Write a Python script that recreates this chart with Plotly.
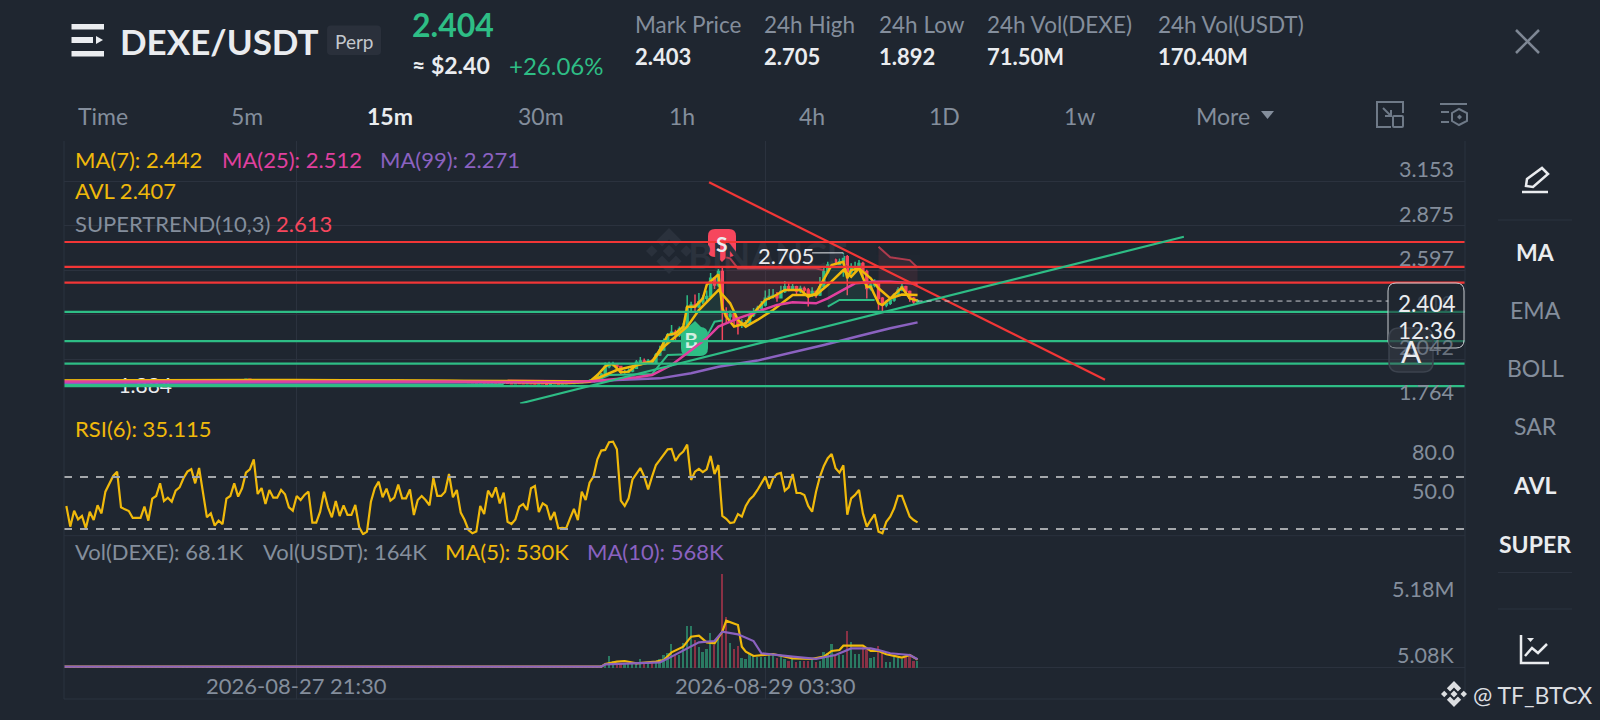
"""DEXE/USDT perp 15m chart screen: candles + MA/AVL/Supertrend, RSI(6) and volume panels."""
import pandas as pd
import plotly.graph_objects as go
from plotly.subplots import make_subplots

BG = "#1f2630"
GRID = "#2b323e"
GREY = "#848e9c"
WHITE = "#eaecef"
UP = "#2ebd85"
DOWN = "#f6465d"
YELLOW = "#f0b90b"
PINK = "#e0409f"
PURPLE = "#8b62c0"
LEVEL_RED = "#f23636"
FONT = "Lato"

# flat stretch before the breakout, closes only (bodies with no visible wick)
FLAT_CLOSE = [
    1.899, 1.901, 1.898, 1.902, 1.900, 1.899, 1.903, 1.901, 1.898, 1.900, 1.902, 1.899, 1.897, 1.900, 1.901,
    1.899, 1.898, 1.902, 1.905, 1.903, 1.900, 1.899, 1.901, 1.898, 1.900, 1.899, 1.901, 1.903, 1.900, 1.898,
    1.899, 1.902, 1.904, 1.901, 1.899, 1.900, 1.898, 1.901, 1.903, 1.899, 1.902, 1.906, 1.909, 1.911, 1.908,
    1.910, 1.913, 1.915, 1.912, 1.910, 1.913, 1.911, 1.909, 1.912, 1.910, 1.908, 1.906, 1.904, 1.903, 1.901,
    1.900, 1.902, 1.899, 1.901, 1.898, 1.900, 1.902, 1.899, 1.901, 1.900, 1.898, 1.899, 1.902, 1.904, 1.901,
    1.899, 1.900, 1.902, 1.899, 1.901, 1.898, 1.900, 1.903, 1.905, 1.907, 1.909, 1.908, 1.906, 1.904, 1.902,
    1.900, 1.899, 1.901, 1.899, 1.897, 1.899, 1.900, 1.898, 1.896, 1.899, 1.900, 1.898, 1.899, 1.897, 1.895,
    1.893, 1.892, 1.894, 1.891, 1.890, 1.892, 1.889, 1.891, 1.893, 1.890, 1.888, 1.890, 1.889, 1.887, 1.889,
    1.888, 1.886, 1.888, 1.887, 1.885, 1.887, 1.889, 1.886, 1.888, 1.890, 1.889, 1.892, 1.894, 1.897, 1.900,
]
FLAT_VOL = [
    0.04, 0.05, 0.03, 0.06, 0.04, 0.05, 0.07, 0.04, 0.03, 0.05, 0.06, 0.04, 0.03, 0.05, 0.04,
    0.05, 0.03, 0.04, 0.08, 0.06, 0.04, 0.03, 0.05, 0.04, 0.05, 0.03, 0.04, 0.06, 0.05, 0.03,
    0.04, 0.06, 0.07, 0.04, 0.03, 0.05, 0.04, 0.05, 0.06, 0.03, 0.05, 0.08, 0.09, 0.07, 0.06,
    0.07, 0.08, 0.09, 0.06, 0.05, 0.07, 0.06, 0.05, 0.06, 0.05, 0.04, 0.05, 0.04, 0.03, 0.05,
    0.04, 0.05, 0.03, 0.04, 0.03, 0.05, 0.04, 0.03, 0.05, 0.04, 0.03, 0.04, 0.06, 0.05, 0.04,
    0.03, 0.04, 0.05, 0.03, 0.04, 0.03, 0.04, 0.06, 0.07, 0.08, 0.07, 0.06, 0.05, 0.05, 0.04,
    0.04, 0.03, 0.05, 0.04, 0.03, 0.04, 0.05, 0.04, 0.03, 0.04, 0.05, 0.04, 0.03, 0.04, 0.05,
    0.06, 0.05, 0.04, 0.06, 0.05, 0.04, 0.05, 0.04, 0.06, 0.05, 0.04, 0.05, 0.04, 0.05, 0.04,
    0.05, 0.06, 0.04, 0.05, 0.06, 0.04, 0.05, 0.06, 0.05, 0.07, 0.06, 0.08, 0.07, 0.09, 0.08,
]

# last 85 bars, breakout and after
ACTIVE_CLOSE = [
    1.905, 1.917, 1.938, 1.947, 1.995, 2.009, 2.009, 1.995, 1.959, 1.963, 1.967, 1.984, 2.022, 2.030, 2.022,
    2.030, 2.022, 2.067, 2.099, 2.147, 2.192, 2.209, 2.192, 2.230, 2.244, 2.363, 2.380, 2.369, 2.400, 2.421,
    2.432, 2.546, 2.505, 2.588, 2.338, 2.307, 2.321, 2.286, 2.255, 2.259, 2.269, 2.317, 2.338, 2.359, 2.380,
    2.421, 2.432, 2.438, 2.425, 2.463, 2.494, 2.483, 2.494, 2.467, 2.483, 2.473, 2.442, 2.463, 2.442, 2.494,
    2.587, 2.629, 2.660, 2.629, 2.650, 2.681, 2.587, 2.608, 2.608, 2.639, 2.587, 2.483, 2.504, 2.515, 2.421,
    2.379, 2.390, 2.410, 2.442, 2.473, 2.494, 2.463, 2.421, 2.400, 2.404,
]
ACTIVE_HIGH = [
    1.915, 1.925, 1.950, 1.955, 2.020, 2.025, 2.025, 2.015, 2.000, 1.975, 1.985, 1.995, 2.035, 2.055, 2.045,
    2.042, 2.040, 2.080, 2.125, 2.170, 2.205, 2.255, 2.225, 2.245, 2.265, 2.440, 2.400, 2.445, 2.455, 2.440,
    2.470, 2.580, 2.555, 2.630, 2.610, 2.365, 2.345, 2.335, 2.305, 2.290, 2.285, 2.325, 2.360, 2.375, 2.405,
    2.470, 2.480, 2.480, 2.460, 2.500, 2.530, 2.515, 2.510, 2.500, 2.500, 2.495, 2.485, 2.490, 2.470, 2.555,
    2.630, 2.650, 2.692, 2.670, 2.670, 2.705, 2.692, 2.640, 2.650, 2.660, 2.650, 2.600, 2.530, 2.540, 2.520,
    2.430, 2.410, 2.425, 2.455, 2.490, 2.510, 2.500, 2.470, 2.430, 2.415,
]
ACTIVE_LOW = [
    1.895, 1.900, 1.915, 1.930, 1.945, 1.985, 1.995, 1.985, 1.945, 1.950, 1.955, 1.960, 1.980, 2.015, 2.010,
    2.015, 2.012, 2.020, 2.060, 2.095, 2.140, 2.185, 2.150, 2.180, 2.225, 2.240, 2.330, 2.340, 2.360, 2.385,
    2.400, 2.430, 2.480, 2.490, 2.160, 2.270, 2.285, 2.250, 2.195, 2.235, 2.245, 2.260, 2.305, 2.330, 2.350,
    2.370, 2.410, 2.420, 2.400, 2.420, 2.455, 2.465, 2.470, 2.440, 2.455, 2.460, 2.370, 2.430, 2.425, 2.435,
    2.490, 2.575, 2.620, 2.610, 2.620, 2.556, 2.440, 2.570, 2.580, 2.600, 2.560, 2.420, 2.470, 2.490, 2.350,
    2.335, 2.365, 2.380, 2.400, 2.435, 2.465, 2.450, 2.400, 2.385, 2.390,
]
ACTIVE_VOL = [
    0.05, 0.05, 0.13, 0.18, 0.23, 0.90, 0.49, 0.39, 0.39, 0.28, 0.28, 0.28, 0.44, 0.70, 0.39,
    0.44, 0.39, 0.49, 0.65, 1.01, 1.16, 1.86, 0.96, 0.96, 1.94, 3.24, 3.24, 2.12, 1.60, 1.21,
    1.42, 2.72, 1.73, 2.25, 7.25, 3.93, 1.94, 1.42, 1.68, 0.75, 0.65, 1.09, 0.96, 0.83, 0.83,
    0.83, 0.96, 1.16, 0.75, 0.83, 0.65, 0.49, 0.65, 0.44, 0.49, 0.49, 0.49, 0.57, 0.44, 0.49,
    1.21, 1.16, 1.86, 0.96, 0.96, 0.96, 2.82, 1.99, 1.03, 1.03, 1.60, 1.34, 0.78, 0.83, 1.68,
    1.34, 0.44, 0.44, 0.83, 0.75, 0.65, 0.83, 1.09, 0.49, 0.49,
]

# overlays: value read at "bars back from the last bar"
MA7_BACK = [219, 160, 120, 90, 84, 83, 77, 68, 65, 59, 56, 51, 48, 46, 44, 41, 37, 32, 26, 23, 19, 17, 15, 12, 10, 7, 4, 0]
MA7_VAL = [1.908, 1.911, 1.906, 1.899, 1.902, 1.911, 1.973, 2.025, 2.119, 2.244, 2.348, 2.473, 2.390, 2.286, 2.244,
           2.286, 2.348, 2.442, 2.442, 2.504, 2.598, 2.556, 2.608, 2.546, 2.484, 2.421, 2.445, 2.442]
MA25_BACK = [219, 160, 120, 90, 83, 72, 68, 63, 58, 54, 51, 46, 41, 36, 32, 26, 23, 20, 16, 11, 7, 0]
MA25_VAL = [1.901, 1.902, 1.901, 1.896, 1.905, 1.928, 1.942, 2.005, 2.098, 2.171, 2.244, 2.296, 2.338, 2.380, 2.396,
            2.390, 2.421, 2.463, 2.515, 2.525, 2.525, 2.512]
MA99_BACK = [219, 160, 100, 85, 77, 66, 58, 51, 41, 32, 24, 15, 7, 0]
MA99_VAL = [1.893, 1.895, 1.896, 1.898, 1.911, 1.921, 1.953, 1.994, 2.032, 2.082, 2.130, 2.186, 2.234, 2.271]
AVL_BACK = [219, 160, 120, 90, 84, 82, 80, 79, 78, 76, 74, 72, 68, 66, 64, 62, 60, 59, 57, 55, 54, 51, 50, 49, 47, 44, 42,
            39, 37, 34, 30, 28, 26, 25, 22, 19, 18, 17, 15, 13, 12, 10, 9, 7, 4, 2, 0]
AVL_VAL = [1.906, 1.909, 1.904, 1.892, 1.900, 1.942, 1.995, 2.009, 2.009, 1.959, 1.963, 2.005, 2.026, 2.099, 2.192,
           2.203, 2.244, 2.369, 2.369, 2.421, 2.505, 2.571, 2.359, 2.307, 2.245, 2.265, 2.328, 2.411, 2.431, 2.473,
           2.473, 2.431, 2.452, 2.494, 2.629, 2.650, 2.546, 2.598, 2.608, 2.494, 2.494, 2.390, 2.379, 2.421, 2.488, 2.421, 2.407]

ST_SEGMENTS = [
    ("up", [219, 106], [1.882, 1.882]),
    ("down", [105, 90, 84], [1.910, 1.906, 1.903]),
    ("up", [83, 79, 68, 64, 57, 54, 52, 50], [1.900, 1.942, 1.948, 2.067, 2.073, 2.182, 2.275, 2.282]),
    ("down", [49, 48, 46, 26, 24], [2.677, 2.671, 2.608, 2.608, 2.598]),
    ("up", [23, 20, 11], [2.369, 2.411, 2.411]),
    ("down", [10, 7, 2, 0], [2.744, 2.677, 2.660, 2.613]),
]

RSI6 = [
    47.7, 31.8, 44.1, 37.4, 40.0, 30.5, 43.3, 36.9, 48.2, 42.0, 58.7, 64.6, 70.8, 74.1, 46.7, 45.1, 43.8, 38.5, 38.5, 38.5,
    47.2, 36.4, 53.3, 55.4, 65.1, 51.5, 54.1, 51.0, 59.5, 62.0, 69.0, 74.1, 75.9, 65.1, 76.9, 57.4, 39.0, 42.0, 32.6, 36.4,
    33.8, 53.3, 55.4, 65.1, 54.9, 61.3, 73.3, 75.9, 83.6, 56.9, 61.5, 49.2, 60.0, 54.1, 54.1, 60.0, 56.7, 46.7, 44.1, 55.4,
    52.3, 56.2, 58.7, 34.9, 34.9, 43.3, 58.7, 46.7, 39.0, 51.5, 40.0, 48.2, 40.8, 40.8, 48.5, 31.3, 26.0, 28.0, 51.0, 61.3,
    66.4, 54.4, 61.0, 51.8, 54.1, 64.1, 53.6, 53.6, 60.5, 40.8, 52.3, 55.4, 52.3, 48.2, 69.2, 55.4, 55.4, 58.7, 72.3, 54.4,
    60.0, 42.6, 36.9, 29.2, 26.7, 28.0, 47.7,
    41.5, 59.5, 54.4, 62.0, 49.7, 58.0, 35.6, 33.8, 37.4, 47.2, 49.2, 44.6, 61.3, 63.1, 43.1, 49.7, 47.7, 36.9, 43.1, 30.5,
    30.8, 30.5, 38.2, 45.4, 36.9, 58.7, 52.3, 65.6, 70.3, 83.6, 90.3, 90.8, 96.7, 97.2, 91.3, 51.8, 47.7, 53.6, 68.2, 72.3,
    76.9, 70.3, 60.5, 70.3, 79.2, 83.1, 87.4, 91.3, 91.5, 82.3, 86.9, 89.5, 94.9, 67.7, 74.1, 76.2, 73.8, 75.9, 86.2, 72.3,
    79.2, 40.0, 37.9, 34.6, 35.1, 41.5, 39.5, 47.7, 52.8, 55.6, 60.0, 65.1, 70.3, 61.0, 69.0, 72.3, 73.1, 59.5, 62.0, 72.3,
    57.7, 57.7, 56.2, 47.7, 43.3, 58.7, 70.3, 78.5, 84.4, 87.7, 76.7, 73.3, 79.0, 41.0, 53.6, 56.2, 60.0, 42.0, 31.8, 36.9,
    41.3, 28.0, 26.7, 35.6, 39.5, 45.9, 55.4, 55.4, 47.2, 39.5, 36.9, 35.115,
]
RSI_BANDS = [70, 30]

VOL_MA5_BACK = [219, 81, 80, 77, 75, 72, 67, 65, 63, 60, 58, 56, 54, 52, 50, 49, 46, 45, 44, 42, 37, 32, 27, 24, 22, 20, 19, 14, 12, 10, 8, 4, 2, 0]
VOL_MA5_VAL = [0.05, 0.05, 0.26, 0.44, 0.49, 0.31, 0.44, 0.57, 1.16, 1.60, 2.38, 2.46, 1.94, 1.86, 2.77, 3.62, 3.29, 1.60, 1.21,
               0.88, 1.03, 0.70, 0.65, 0.83, 1.27, 1.34, 1.68, 1.68, 1.27, 1.27, 1.01, 0.75, 0.96, 0.60]
VOL_MA10_BACK = [219, 81, 80, 72, 66, 63, 59, 56, 52, 50, 46, 42, 40, 37, 32, 26, 21, 17, 12, 10, 7, 2, 0]
VOL_MA10_VAL = [0.05, 0.05, 0.23, 0.31, 0.39, 0.83, 1.47, 1.94, 2.04, 2.77, 2.56, 2.04, 1.09, 1.01, 0.83, 0.65, 0.96, 1.47,
                1.47, 1.34, 1.09, 0.96, 0.62]

RED_LEVELS = [2.773, 2.617, 2.519]
GREEN_LEVELS = [2.336, 2.154, 2.013, 1.873]
RED_TREND_T = ["2026-08-28 23:54", "2026-08-30 01:15"]
RED_TREND_P = [3.146, 1.913]
GREEN_TREND_T = ["2026-08-28 11:48", "2026-08-30 06:18"]
GREEN_TREND_P = [1.764, 2.806]
LAST_PRICE = 2.404
LAST_LINE_END = "2026-08-30 19:24"

PRICE_TICKS = [3.153, 2.875, 2.597, 2.319, 2.042, 1.764]
RSI_TICKS = [80, 50]
RSI_TICK_TEXT = ["80.0", "50.0"]
VOL_TICKS = [5.18, 0.00508]
VOL_TICK_TEXT = ["5.18M", "5.08K"]
TIME_TICKS = ["2026-08-27 21:30", "2026-08-29 03:30"]
X_RANGE = ["2026-08-27 06:36", "2026-08-31 00:18"]

STATS = [("Mark Price", "2.403", 635), ("24h High", "2.705", 764), ("24h Low", "1.892", 879),
         ("24h Vol(DEXE)", "71.50M", 987), ("24h Vol(USDT)", "170.40M", 1158)]
INTERVALS = [("Time", 103, False), ("5m", 247, False), ("15m", 390, True), ("30m", 541, False), ("1h", 682, False),
             ("4h", 812, False), ("1D", 945, False), ("1w", 1079, False), ("More", 1223, False)]
SIDE_ITEMS = [("MA", 252, True), ("EMA", 310, False), ("BOLL", 368, False), ("SAR", 426, False),
              ("AVL", 485, True), ("SUPER", 544, True)]

close = FLAT_CLOSE + ACTIVE_CLOSE
n_bars = len(close)
times = pd.date_range(end="2026-08-29 13:15", periods=n_bars, freq="15min")
opens = [close[0]] + close[:-1]
flat_n = len(FLAT_CLOSE)
high = [max(o, c) for o, c in zip(opens[:flat_n], close[:flat_n])] + ACTIVE_HIGH
low = [min(o, c) for o, c in zip(opens[:flat_n], close[:flat_n])] + ACTIVE_LOW
volume = FLAT_VOL + ACTIVE_VOL


def back(bars):
    return [times[-1 - k] for k in bars]


def PX(x):
    return x / 1600


def PY(y):
    return 1 - y / 720


def path_px(points, close_it=False):
    d = "M " + " L ".join(f"{PX(x):.5f},{PY(y):.5f}" for x, y in points)
    return d + (" Z" if close_it else "")


fig = make_subplots(rows=3, cols=1, shared_xaxes=True)

# text that sits under the drawn lines, first so the scatter layer stacks them on top
fig.add_trace(go.Scatter(x=["2026-08-27 11:48"], y=[1.861], mode="text", text=["1.884"],
                         textfont=dict(color=WHITE, size=21, family=FONT), hoverinfo="skip"), row=1, col=1)
fig.add_trace(go.Scatter(x=["2026-08-29 03:40"], y=[2.662], mode="text", text=["<b>BINANCE</b>"],
                         textfont=dict(color="#2b323d", size=36, family=FONT), hoverinfo="skip"), row=1, col=1)
fig.add_trace(go.Scatter(x=[times[-1 - 58]], y=[2.145], mode="text", text=["<b>B</b>"],
                         textfont=dict(color="#e6f5ee", size=20, family=FONT), hoverinfo="skip"), row=1, col=1)

# supertrend fills between the trend line and the closes
for side, bars, vals in ST_SEGMENTS:
    if bars[0] > 100:
        continue
    idx = list(range(n_bars - 1 - bars[0], n_bars - bars[-1]))
    fill_x = back(bars) + [times[i] for i in reversed(idx)]
    fill_y = vals + [close[i] for i in reversed(idx)]
    color = "rgba(46,189,133,0.11)" if side == "up" else "rgba(246,70,93,0.10)"
    fig.add_trace(go.Scatter(x=fill_x, y=fill_y, fill="toself", fillcolor=color, mode="none",
                             hoverinfo="skip"), row=1, col=1)

fig.add_trace(go.Candlestick(
    x=times, open=opens, high=high, low=low, close=close, whiskerwidth=0,
    increasing=dict(line=dict(color=UP, width=1.5), fillcolor=UP),
    decreasing=dict(line=dict(color=DOWN, width=1.5), fillcolor=DOWN)), row=1, col=1)

for side, bars, vals in ST_SEGMENTS:
    fig.add_trace(go.Scatter(x=back(bars), y=vals, mode="lines", hoverinfo="skip", opacity=1 if side == "up" else 0.65,
                             line=dict(color=UP if side == "up" else DOWN, width=2)), row=1, col=1)
fig.add_trace(go.Scatter(x=back(MA99_BACK), y=MA99_VAL, mode="lines", line=dict(color=PURPLE, width=2.5)), row=1, col=1)
fig.add_trace(go.Scatter(x=back(MA7_BACK), y=MA7_VAL, mode="lines", line=dict(color=YELLOW, width=2.5)), row=1, col=1)
fig.add_trace(go.Scatter(x=back(AVL_BACK), y=AVL_VAL, mode="lines", line=dict(color=YELLOW, width=2.5)), row=1, col=1)
fig.add_trace(go.Scatter(x=back(MA25_BACK), y=MA25_VAL, mode="lines", line=dict(color=PINK, width=2.5)), row=1, col=1)

for lvl in RED_LEVELS:
    fig.add_trace(go.Scatter(x=X_RANGE, y=[lvl, lvl], mode="lines", line=dict(color=LEVEL_RED, width=2.2)), row=1, col=1)
for lvl in GREEN_LEVELS:
    fig.add_trace(go.Scatter(x=X_RANGE, y=[lvl, lvl], mode="lines", line=dict(color=UP, width=2.2)), row=1, col=1)
fig.add_trace(go.Scatter(x=RED_TREND_T, y=RED_TREND_P, mode="lines", line=dict(color=LEVEL_RED, width=2.2)), row=1, col=1)
fig.add_trace(go.Scatter(x=GREEN_TREND_T, y=GREEN_TREND_P, mode="lines", line=dict(color=UP, width=2.2)), row=1, col=1)
fig.add_trace(go.Scatter(x=[times[-1], LAST_LINE_END], y=[LAST_PRICE, LAST_PRICE], mode="lines",
                         line=dict(color="#c9ccd1", width=1, dash="5px,4px")), row=1, col=1)
# leader from the 2.705 label to the session high
fig.add_trace(go.Scatter(x=[times[-28], times[-20]], y=[max(high), max(high)], mode="lines",
                         line=dict(color=WHITE, width=1)), row=1, col=1)

# RSI panel
fig.add_trace(go.Scatter(x=times[-len(RSI6):], y=RSI6, mode="lines", line=dict(color=YELLOW, width=2.2)), row=2, col=1)
for band in RSI_BANDS:
    fig.add_trace(go.Scatter(x=X_RANGE, y=[band, band], mode="lines",
                             line=dict(color="#a4a7ab", width=2, dash="8px,8px")), row=2, col=1)

# volume panel
vol_colors = [("#2a7a62" if c >= o else "#8a3145") for o, c in zip(opens, close)]
fig.add_trace(go.Bar(x=times, y=volume, marker=dict(color=vol_colors, line=dict(width=0)), width=400000), row=3, col=1)
fig.add_trace(go.Scatter(x=back(VOL_MA5_BACK), y=VOL_MA5_VAL, mode="lines", line=dict(color=YELLOW, width=2.2)), row=3, col=1)
fig.add_trace(go.Scatter(x=back(VOL_MA10_BACK), y=VOL_MA10_VAL, mode="lines", line=dict(color=PURPLE, width=2.2)), row=3, col=1)

annotations = []


def label(text, x, y, color=GREY, size=22, anchor="left", bold=False):
    # plotly pads annotation boxes, pull left-aligned text back onto its x
    x = x - 2.5 if anchor == "left" else x
    annotations.append(dict(text=f"<b>{text}</b>" if bold else text, x=PX(x), y=PY(y), xref="paper", yref="paper",
                            xanchor=anchor, yanchor="middle", showarrow=False,
                            font=dict(color=color, size=size, family=FONT)))


def axis_label(text, value, yref, opacity=1):
    annotations.append(dict(text=text, x=PX(1456), y=value, xref="paper", yref=yref, xanchor="right",
                            yanchor="middle", yshift=12, showarrow=False, opacity=opacity,
                            font=dict(color=GREY, size=21.5, family=FONT)))


# header
label("DEXE/USDT", 120, 41, WHITE, 35, bold=True)
label("Perp", 354, 41, "#c4c8ce", 19, "center")
label("2.404", 412, 25, UP, 32, bold=True)
label("≈ $2.40", 412, 65, WHITE, 23, bold=True)
label("+26.06%", 509, 65, UP, 24)
for name, value, x in STATS:
    label(name, x, 25, GREY, 22.5)
    label(value, x, 57, WHITE, 22, bold=True)
for name, x, active in INTERVALS:
    label(name, x, 116, WHITE if active else GREY, 23, "center", bold=active)
for name, y, active in SIDE_ITEMS:
    label(name, 1535, y, WHITE if active else GREY, 23, "center", bold=active)

# indicator readouts
label("MA(7): 2.442", 75.5, 159, YELLOW)
label("MA(25): 2.512", 222.5, 159, PINK)
label("MA(99): 2.271", 380.5, 159, PURPLE)
label("AVL 2.407", 75.5, 191, YELLOW)
label("SUPERTREND(10,3)", 75.5, 223.5, GREY)
label("2.613", 276.5, 223.5, DOWN)
label("RSI(6): 35.115", 75.5, 428.5, YELLOW)
label("Vol(DEXE): 68.1K", 75.5, 551, GREY)
label("Vol(USDT): 164K", 263, 551, GREY)
label("MA(5): 530K", 446, 551, YELLOW)
label("MA(10): 568K", 587, 551, PURPLE)

for tick in PRICE_TICKS:
    dim = {2.319: 0.25, 2.042: 0.7}.get(tick, 1)
    axis_label(f"{tick:.3f}", tick, "y", dim)
for tick, text in zip(RSI_TICKS, RSI_TICK_TEXT):
    axis_label(text, tick, "y2")
for tick, text in zip(VOL_TICKS, VOL_TICK_TEXT):
    axis_label(text, tick, "y3")
for tick in TIME_TICKS:
    annotations.append(dict(text=tick, x=tick, y=PY(685), xref="x3", yref="paper", xanchor="center", yanchor="middle",
                            showarrow=False, font=dict(color=GREY, size=22, family=FONT)))

label("2.705", 758, 255, WHITE, 22)
label("2.404", 1427, 303, WHITE, 22.5, "center")
label("12:36", 1427, 331, WHITE, 22.5, "center")
label("A", 1411, 351, WHITE, 30, "center")
label("S", 722, 243, WHITE, 21, "center", bold=True)
label("@ TF_BTCX", 1473, 695, "#dcdee1", 23)

shapes = []


def add_path(points, fill=None, line=None, width=2, close_it=True, layer="above"):
    shapes.append(dict(type="path", path=path_px(points, close_it), xref="paper", yref="paper", layer=layer,
                       fillcolor=fill if fill else "rgba(0,0,0,0)",
                       line=dict(color=line if line else "rgba(0,0,0,0)", width=width if line else 0)))


def add_seg(x0, y0, x1, y1, color=GRID, width=1, layer="above"):
    shapes.append(dict(type="line", x0=PX(x0), y0=PY(y0), x1=PX(x1), y1=PY(y1), xref="paper", yref="paper",
                       layer=layer, line=dict(color=color, width=width)))


def add_box(x0, y0, x1, y1, r, fill=None, line=None, width=1, layer="above"):
    a, b, c, d = PX(x0), PY(y0), PX(x1), PY(y1)
    rx, ry = r / 1600, r / 720
    path = (f"M {a + rx:.5f},{b:.5f} L {c - rx:.5f},{b:.5f} Q {c:.5f},{b:.5f} {c:.5f},{b - ry:.5f} "
            f"L {c:.5f},{d + ry:.5f} Q {c:.5f},{d:.5f} {c - rx:.5f},{d:.5f} L {a + rx:.5f},{d:.5f} "
            f"Q {a:.5f},{d:.5f} {a:.5f},{d + ry:.5f} L {a:.5f},{b - ry:.5f} Q {a:.5f},{b:.5f} {a + rx:.5f},{b:.5f} Z")
    shapes.append(dict(type="path", path=path, xref="paper", yref="paper", layer=layer,
                       fillcolor=fill if fill else "rgba(0,0,0,0)",
                       line=dict(color=line if line else "rgba(0,0,0,0)", width=width if line else 0)))


def add_diamond(cx, cy, r, color, layer="above"):
    add_path([(cx, cy - r), (cx + r, cy), (cx, cy + r), (cx - r, cy)], fill=color, layer=layer)


def binance_logo(cx, cy, s, color, layer="above"):
    add_diamond(cx, cy, 0.27 * s, color, layer)
    add_diamond(cx - 0.75 * s, cy, 0.25 * s, color, layer)
    add_diamond(cx + 0.75 * s, cy, 0.25 * s, color, layer)
    for sign in (-1, 1):
        add_path([(cx, cy + sign * s), (cx + 0.55 * s, cy + sign * 0.45 * s), (cx + 0.3 * s, cy + sign * 0.2 * s),
                  (cx, cy + sign * 0.5 * s), (cx - 0.3 * s, cy + sign * 0.2 * s), (cx - 0.55 * s, cy + sign * 0.45 * s)],
                 fill=color, layer=layer)


# panel frame
add_seg(64, 141, 64, 699)
add_seg(1465, 141, 1465, 699)
add_seg(64, 535.7, 1465, 535.7)
add_seg(64, 699, 1465, 699)

# top-left menu icon and Perp chip
add_box(327, 25.5, 381, 55, 4, fill="#2a303b", layer="below")
for y0, y1, x1 in [(24, 29.5, 104), (37, 43, 93), (51, 56.5, 104)]:
    add_path([(71.5, y0), (x1, y0), (x1, y1), (71.5, y1)], fill=WHITE)
add_path([(96, 36), (103, 40), (96, 44)], fill=WHITE)

# close cross
add_seg(1516, 30, 1539, 53, "#7e8794", 2.5)
add_seg(1539, 30, 1516, 53, "#7e8794", 2.5)
add_path([(1261, 111), (1274, 111), (1267.5, 119)], fill=GREY)

# expand / settings icons
add_path([(1391, 127), (1377, 127), (1377, 102), (1403, 102), (1403, 113)], line="#6f7a88", width=2, close_it=False)
add_box(1393, 116, 1403, 127, 1, line="#6f7a88", width=2)
add_seg(1383, 108, 1391, 116, "#6f7a88", 2)
add_path([(1391, 110), (1391, 116), (1385, 116)], line="#6f7a88", width=2, close_it=False)
add_seg(1440, 104, 1467, 104, "#6f7a88", 2)
add_seg(1441, 112, 1449, 112, "#6f7a88", 2)
add_seg(1441, 122, 1449, 122, "#6f7a88", 2)
add_path([(1459, 109), (1467, 113), (1467, 121), (1459, 125), (1452, 121), (1452, 113)], line="#6f7a88", width=2)
add_diamond(1459.5, 117, 2.5, "#6f7a88")

# pencil
add_path([(1526, 186), (1527, 179), (1542, 168), (1548, 174), (1533, 187)], line=WHITE, width=2.5)
add_seg(1522, 192, 1548, 192, WHITE, 2.5)

# chart icon and sidebar dividers
add_path([(1521, 635), (1521, 663), (1549, 663)], line=WHITE, width=2.5, close_it=False)
add_path([(1525, 656), (1532, 648), (1538, 653), (1547, 644)], line=WHITE, width=2.5, close_it=False)
add_path([(1527, 638), (1534, 638), (1530.5, 642)], fill=WHITE)
for y in (220, 572.5, 609):
    add_seg(1498, y, 1572, y, GRID, 1)

# last price box and A button
add_box(1388, 283, 1464, 348, 8, fill="rgba(31,38,48,0.55)", line="#c9ccd1", width=1)
add_box(1389, 328, 1433, 372, 10, fill="rgba(60,66,76,0.45)", line="#3c434e", width=1.5)

# S / B badges, behind the drawn lines
add_box(708, 229, 736, 257, 7, fill=DOWN, layer="below")
add_path([(716, 256), (728, 256), (722, 262)], fill=DOWN, layer="below")
add_box(681, 327, 708, 356, 8, fill=UP, layer="below")
add_path([(687, 328), (702, 328), (695, 321)], fill=UP, layer="below")

binance_logo(669, 251, 23, "#2a313c", "below")
binance_logo(1454, 694, 13, "#dcdee1")

fig.update_layout(
    width=1600, height=720, margin=dict(l=0, r=0, t=0, b=0), paper_bgcolor=BG, plot_bgcolor=BG,
    showlegend=False, annotations=annotations, shapes=shapes, bargap=0, hovermode=False,
    font=dict(family=FONT, color=GREY),
)
fig.update_xaxes(type="date", range=X_RANGE, domain=[PX(64), PX(1465)], rangeslider_visible=False,
                 tickvals=TIME_TICKS, showgrid=True, gridcolor=GRID, gridwidth=1, showticklabels=False,
                 zeroline=False, showline=False, ticks="")
fig.update_yaxes(showticklabels=False, zeroline=False, showline=False, ticks="", gridcolor=GRID, gridwidth=1)
fig.update_yaxes(row=1, col=1, domain=[PY(403.5), PY(141)], range=[1.764, 3.404], tickvals=PRICE_TICKS)
fig.update_yaxes(row=2, col=1, domain=[PY(535.7), PY(403.5)], range=[24.85, 126.5], showgrid=False)
fig.update_yaxes(row=3, col=1, domain=[PY(699), PY(535.7)], range=[-2.46, 10.22], tickvals=[VOL_TICKS[1]])

# the page body keeps its default margin otherwise and shifts the picture by 8px
fig.write_html("out.html", config=dict(displayModeBar=False),
               post_script=f"document.body.style.margin='0';document.body.style.background='{BG}';")
